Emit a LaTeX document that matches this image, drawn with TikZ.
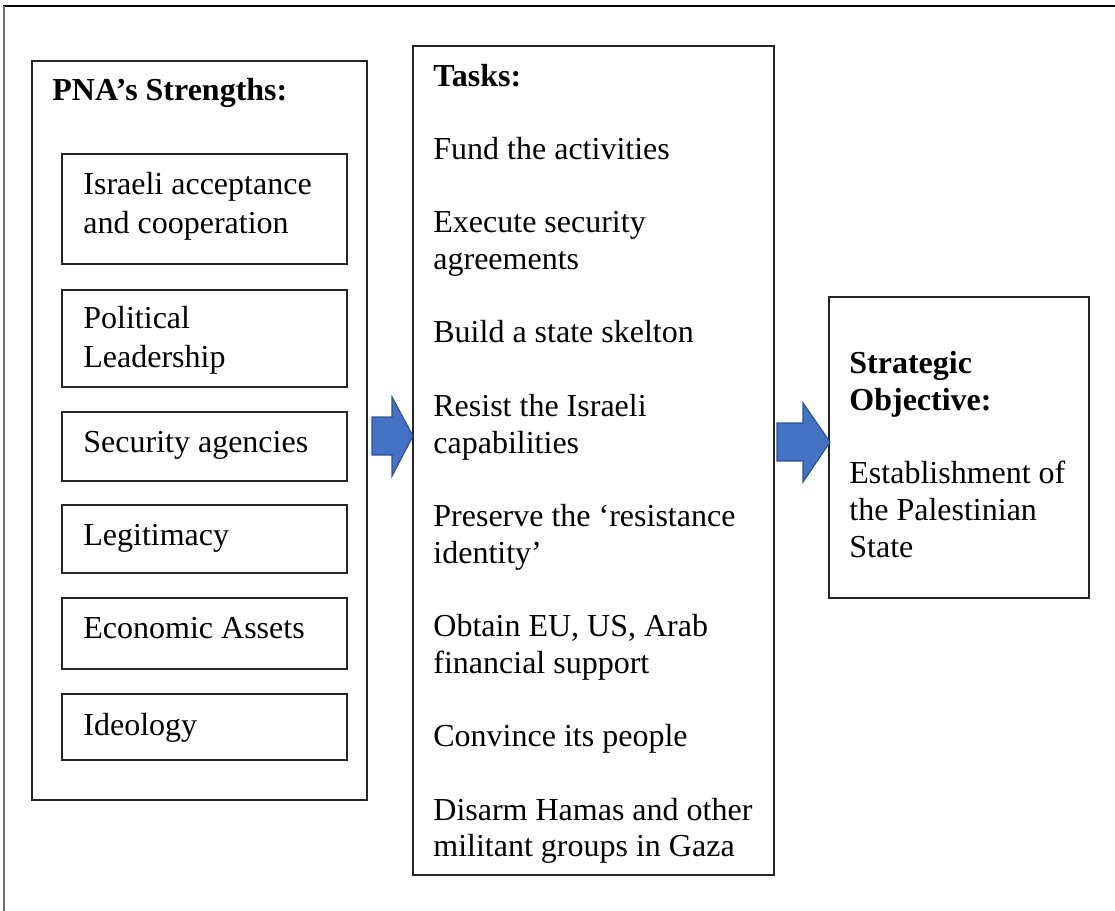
\documentclass[tikz,border=0pt]{standalone}
\usepackage{fontspec}
\setmainfont{Liberation Serif}
\usetikzlibrary{fit}
\definecolor{arrowblue}{HTML}{4472C4}
\definecolor{arrowedge}{HTML}{2F528F}
\begin{document}
\begin{tikzpicture}[x=0.5pt,y=-0.5pt,
  box/.style={draw=black!85,line width=0.6pt,inner sep=0pt},
  txt/.style={anchor=base west,inner sep=0pt,font=\fontsize{16}{18.35}\selectfont},
  btxt/.style={anchor=base west,inner sep=0pt,font=\fontsize{16}{18.35}\selectfont\bfseries},
  blockarrow/.style={fill=arrowblue,draw=arrowedge,line width=0.6pt,line join=miter}]
\useasboundingbox (0,0) rectangle (1115,911);
% frame lines
\draw[line width=1.3pt] (3,6) -- (1115,6);
\draw[black!55,line width=0.7pt] (4,6) -- (4,911);

% Strengths column
\node[box,fit={(32,61)(367,800)}] (str) {};
\node[btxt] (strh) at (52,100) {PNA’s Strengths:};
\node[box,fit={(62,154)(347,264)}] (s1) {};
\node[txt] (s1a) at (83,194) {Israeli acceptance};
\node[txt] (s1b) at (83,233) {and cooperation};
\node[box,fit={(62,290)(347,387)}] (s2) {};
\node[txt] (s2a) at (83,328) {Political};
\node[txt] (s2b) at (83,367) {Leadership};
\node[box,fit={(62,412)(347,481)}] (s3) {};
\node[txt] (s3a) at (83,452) {Security agencies};
\node[box,fit={(62,505)(347,573)}] (s4) {};
\node[txt] (s4a) at (83,545) {Legitimacy};
\node[box,fit={(62,598)(347,669)}] (s5) {};
\node[txt] (s5a) at (83,638) {Economic Assets};
\node[box,fit={(62,694)(347,760)}] (s6) {};
\node[txt] (s6a) at (83,735) {Ideology};

% Tasks column
\node[box,fit={(413,46)(774,875)}] (tasks) {};
\node[btxt] (th) at (433,86) {Tasks:};
\node[txt] (t1) at (433,159.4) {Fund the activities};
\node[txt] (t2a) at (433,232.8) {Execute security};
\node[txt] (t2b) at (433,269.5) {agreements};
\node[txt] (t3) at (433,342.9) {Build a state skelton};
\node[txt] (t4a) at (433,416.3) {Resist the Israeli};
\node[txt] (t4b) at (433,453) {capabilities};
\node[txt] (t5a) at (433,526.4) {Preserve the ‘resistance};
\node[txt] (t5b) at (433,563.1) {identity’};
\node[txt] (t6a) at (433,636.5) {Obtain EU, US, Arab};
\node[txt] (t6b) at (433,673.2) {financial support};
\node[txt] (t7) at (433,746.6) {Convince its people};
\node[txt] (t8a) at (433,820) {Disarm Hamas and other};
\node[txt] (t8b) at (433,856.7) {militant groups in Gaza};

% Objective column
\node[box,fit={(829,297)(1089,598)}] (obj) {};
\node[btxt] (oh1) at (849,373) {Strategic};
\node[btxt] (oh2) at (849,410) {Objective:};
\node[txt] (o1) at (849,483) {Establishment of};
\node[txt] (o2) at (849,520) {the Palestinian};
\node[txt] (o3) at (849,557) {State};

% block arrows
\draw[blockarrow] (372,417) -- (392,417) -- (392,397) -- (413,436) -- (392,476) -- (392,455) -- (372,455) -- cycle;
\draw[blockarrow] (777,423) -- (803,423) -- (803,403) -- (830,442) -- (803,482) -- (803,461) -- (777,461) -- cycle;
\end{tikzpicture}
\end{document}
